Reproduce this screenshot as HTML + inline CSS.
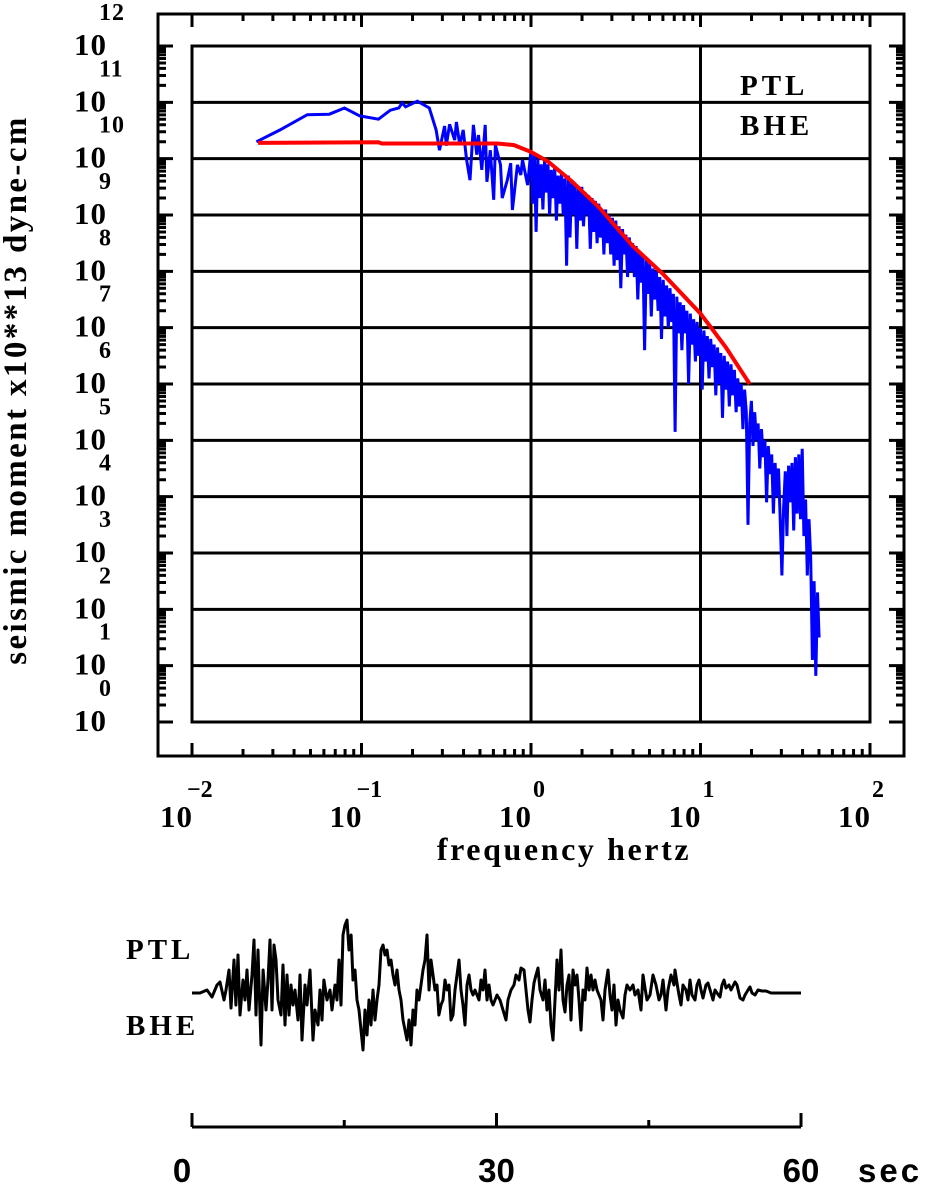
<!DOCTYPE html>
<html><head><meta charset="utf-8">
<style>
html,body{margin:0;padding:0;background:#fff;}
svg{display:block;}
.lab{font-family:"Liberation Serif",serif;font-weight:bold;fill:#000;}
.sans{font-family:"Liberation Sans",sans-serif;fill:#000;}
</style></head>
<body>
<svg id="chart" width="928" height="1184" viewBox="0 0 928 1184" xmlns="http://www.w3.org/2000/svg">
<rect x="0" y="0" width="928" height="1184" fill="#fff"/>
<g id="grid"></g>
<g id="frames"></g>
<g id="ticks"></g>
<g id="labels"></g>
<g id="series"></g>
<text class="lab" x="0" y="0" font-size="33" letter-spacing="2.4" text-anchor="middle" transform="translate(26,390) rotate(-90)">seismic moment x10**13 dyne-cm</text>
<text class="lab" x="564" y="860" font-size="32" letter-spacing="2.6" text-anchor="middle">frequency  hertz</text>
<text class="lab" x="740" y="95" font-size="29" letter-spacing="4">PTL</text>
<text class="lab" x="740" y="135" font-size="29" letter-spacing="4">BHE</text>
<text class="lab" x="126" y="959" font-size="29" letter-spacing="4">PTL</text>
<text class="lab" x="126" y="1035" font-size="29" letter-spacing="4">BHE</text>
<text class="sans" x="858" y="1182" font-size="33" letter-spacing="3" font-weight="bold" text-anchor="start">sec</text>
</svg>
<script>
// ---- spectrum data (log10 Hz, log10 moment) ----
const blueLogF = [-1.62,-1.48,-1.32,-1.19,-1.10,-1.01,-0.90,-0.83,-0.78,-0.76,-0.74,-0.67,-0.60,-0.56,-0.54,-0.51,-0.50,-0.48,-0.45,-0.44,-0.42,-0.40,-0.38,-0.36,-0.34,-0.32,-0.31,-0.29,-0.27,-0.26,-0.24,-0.22,-0.21,-0.18,-0.17,-0.14,-0.12,-0.11,-0.08,-0.06,-0.05,-0.02,
0.00,0.01,0.02,0.03,0.04,0.05,0.06,0.07,0.08,0.09,
0.10,0.11,0.12,0.13,0.14,0.15,0.16,0.17,0.18,0.19,
0.20,0.21,0.22,0.23,0.24,0.25,0.26,0.27,0.28,0.29,
0.30,0.31,0.32,0.33,0.34,0.35,0.36,0.37,0.38,0.39,
0.40,0.41,0.42,0.43,0.44,0.45,0.46,0.47,0.48,0.49,
0.50,0.51,0.52,0.53,0.54,0.55,0.56,0.57,0.58,0.59,
0.60,0.61,0.62,0.63,0.64,0.65,0.66,0.67,0.68,0.69,
0.70,0.71,0.72,0.73,0.74,0.75,0.76,0.77,0.78,0.79,
0.80,0.81,0.82,0.83,0.84,0.85,0.86,0.87,0.88,0.89,
0.90,0.91,0.92,0.93,0.94,0.95,0.96,0.97,0.98,0.99,
1.00,1.01,1.02,1.03,1.04,1.05,1.06,1.07,1.08,1.09,
1.10,1.11,1.12,1.13,1.14,1.15,1.16,1.17,1.18,1.19,
1.20,1.21,1.22,1.23,1.24,1.25,1.26,1.27,1.28,1.29,
1.30,1.31,1.32,1.33,1.34,1.35,1.36,1.37,1.38,1.39,
1.40,1.41,1.42,1.43,1.44,1.45,1.46,1.47,1.48,1.49,
1.50,1.51,1.52,1.53,1.54,1.55,1.56,1.57,1.58,1.59,
1.60,1.61,1.62,1.63,1.64,1.65,1.66,1.67,1.68,1.69,
1.70];
const blueLogM = [10.30,10.51,10.78,10.79,10.90,10.76,10.70,10.86,10.90,10.99,10.92,11.02,10.90,10.51,10.15,10.58,10.23,10.61,10.33,10.65,10.24,10.51,9.98,9.62,10.60,10.07,10.42,9.80,10.60,9.59,10.15,9.27,10.24,9.89,9.30,9.62,9.92,9.09,9.89,9.71,9.98,9.53,
10.15,9.2,10.1,8.7,10.0,9.3,9.9,9.1,10.0,9.4,
9.9,9.0,9.8,9.3,9.85,8.9,9.7,9.2,9.75,9.0,
9.65,8.1,9.7,8.6,9.6,9.0,9.55,8.4,9.5,8.9,
9.5,8.8,9.4,9.0,9.35,8.4,9.3,8.7,9.25,8.5,
9.2,8.6,9.1,8.3,9.1,8.5,9.0,8.3,8.95,8.1,
8.9,8.2,8.8,7.7,8.75,8.3,8.65,7.9,8.6,8.0,
8.5,7.9,8.45,7.5,8.35,7.8,8.3,6.6,8.2,7.6,
8.15,7.2,8.05,7.5,8.0,7.3,7.9,6.8,7.85,7.2,
7.75,7.0,7.7,7.1,7.6,5.15,7.55,6.9,7.45,6.6,
7.4,6.9,7.3,6.0,7.25,6.7,7.15,6.4,7.1,6.5,
7.0,5.9,6.95,6.4,6.85,6.1,6.8,6.3,6.7,5.8,
6.65,6.0,6.55,5.4,6.5,5.9,6.4,5.6,6.35,5.8,
6.25,5.5,6.1,5.6,6.0,5.2,5.9,5.5,3.5,5.3,
5.7,4.9,5.5,5.0,5.3,4.5,5.2,4.7,5.0,3.9,
4.9,4.4,4.75,3.7,4.6,4.0,4.5,3.6,2.6,3.8,
4.45,3.3,4.55,3.9,4.6,3.4,4.7,3.7,4.75,3.6,
4.85,3.3,3.95,2.6,3.6,2.9,1.1,2.5,0.82,2.3,
1.5];
const redLogF = [-1.61,-0.90,-0.88,-0.20,-0.10,0.00,0.10,0.24,0.40,0.60,0.78,1.00,1.15,1.29];
const redLogM = [10.28,10.29,10.27,10.27,10.24,10.12,9.95,9.60,9.14,8.45,7.95,7.25,6.65,6.00];
const xDecades = [-2,-1,0,1,2];
const yDecades = [0,1,2,3,4,5,6,7,8,9,10,11,12];
// ---- seismogram data (seconds, counts) ----
const traceT = [0,0.79,1.48,1.97,2.46,2.76,3.15,3.35,3.65,3.84,4.14,4.33,4.53,4.73,5.02,5.22,5.42,5.62,5.91,6.11,6.31,6.50,6.80,7.00,7.29,7.49,7.68,7.88,8.08,8.28,8.47,8.77,8.97,9.16,9.36,9.56,9.75,9.95,10.15,10.44,10.64,10.84,11.13,11.33,11.63,11.92,12.12,12.41,12.61,12.81,13.0,13.30,13.60,13.79,14.09,14.29,14.48,14.68,14.88,15.07,15.27,15.47,15.67,15.86,16.06,16.26,16.45,16.65,16.85,17.04,17.24,17.44,17.64,17.83,18.03,18.23,18.42,18.62,18.82,19.01,19.21,19.41,19.61,19.80,20.0,20.20,20.39,20.59,20.79,20.99,21.18,21.38,21.58,21.77,21.97,22.17,22.36,22.56,22.76,22.96,23.15,23.35,23.55,23.74,23.94,24.14,24.33,24.53,24.73,24.93,25.12,25.32,25.52,25.71,25.91,26.11,26.31,26.50,26.70,26.90,27.09,27.29,27.49,27.68,27.88,28.08,28.28,28.47,28.67,28.87,29.06,29.26,29.46,29.66,29.85,30.05,30.34,30.64,30.94,31.13,31.43,31.72,31.92,32.22,32.41,32.71,32.91,33.10,33.30,33.50,33.69,33.89,34.09,34.29,34.58,34.78,34.98,35.17,35.37,35.57,35.76,35.96,36.16,36.35,36.55,36.75,36.95,37.14,37.34,37.54,37.73,37.93,38.13,38.33,38.52,38.72,38.92,39.11,39.31,39.51,39.70,39.90,40.30,40.49,40.69,40.99,41.18,41.38,41.58,41.77,41.97,42.17,42.46,42.66,42.86,43.15,43.45,43.65,43.94,44.24,44.43,44.63,44.83,45.12,45.42,45.71,46.01,46.21,46.40,46.70,46.90,47.19,47.49,47.59,47.78,47.98,48.18,48.37,48.67,48.87,49.06,49.26,49.56,49.75,49.95,50.15,50.34,50.64,50.84,51.13,51.33,51.53,51.72,52.02,52.22,52.41,52.61,52.91,53.10,53.50,53.69,53.99,54.29,54.48,54.78,54.98,55.17,55.47,55.76,56.16,56.55,57.04,57.93,60];
const traceA = [0,0,3,-4,8,11,-7,3,23,-15,33,-12,38,-22,13,-7,23,-17,18,53,-22,43,-52,23,-17,13,53,-17,48,33,-7,-22,28,-32,18,-22,8,-12,3,-27,18,-47,8,-12,23,-47,-17,-32,3,-27,13,-7,3,-17,8,-7,33,-12,58,68,73,43,58,13,23,-7,-17,-37,-57,-17,-42,-7,-32,3,-27,-7,8,43,48,38,43,28,33,18,8,23,3,-7,-27,-37,-47,-27,-52,-17,-32,3,-7,8,23,33,58,3,33,18,3,8,-22,-12,-7,13,3,8,-27,-22,3,18,33,3,-12,-32,8,18,3,-2,3,-2,-7,13,3,23,-7,8,-7,-12,-7,-2,-7,-17,-27,-7,3,8,18,13,25,23,3,-17,-29,-7,10,18,25,3,-7,13,-17,3,-32,-47,-7,33,3,43,-7,-19,8,18,-27,23,8,18,-7,-37,3,-7,25,3,18,3,13,3,-7,-27,3,23,-2,-17,8,-32,-7,-17,-25,-2,8,3,8,-2,3,-17,18,5,-7,-2,18,8,-7,-2,13,-17,3,18,8,23,10,-2,-12,8,3,-7,13,-2,-7,8,13,3,-5,8,10,0,-7,3,0,-4,8,13,5,8,3,11,8,-5,-7,-2,3,6,0,-2,3,2,2,0,0,0];
const timeTicks = [0,15,30,45,60];
const timeLabels = [0,30,60];

const NS='http://www.w3.org/2000/svg';
function mk(tag, attrs, parent){const e=document.createElementNS(NS,tag);for(const k in attrs)e.setAttribute(k,attrs[k]);parent.appendChild(e);return e;}
const X0=192,X1=870,Y0=722,Y1=46;
const xs = lf => X0 + (lf + 2) * (X1 - X0) / 4;
const ys = lm => Y0 - lm * (Y0 - Y1) / 12;
const TX0=192,TX1=801,TY=993;
const ts = t => TX0 + t * (TX1 - TX0) / 60;
const as = a => TY - a;

const grid=document.getElementById('grid'),frames=document.getElementById('frames'),ticks=document.getElementById('ticks'),labels=document.getElementById('labels'),series=document.getElementById('series');

yDecades.forEach(d=>{
  const l=mk('line',{x1:X0,x2:X1,y1:ys(d),y2:ys(d),stroke:'#000','stroke-width':3},grid);
  
  
});
xDecades.forEach(d=>{
  const l=mk('line',{x1:xs(d),x2:xs(d),y1:Y1,y2:Y0,stroke:'#000','stroke-width':3},grid);
  
  
});
const inner=mk('rect',{x:X0,y:Y1,width:X1-X0,height:Y0-Y1,fill:'none',stroke:'#000','stroke-width':3},frames);


const outer=mk('rect',{x:158,y:14,width:746,height:742,fill:'none',stroke:'#000','stroke-width':3},frames);



let tp='';
for(let d=-2; d<=2; d++){
  for(let m=1;m<=9;m++){
    if(d===2&&m>1)break;
    const x=xs(d+Math.log10(m)); const L=m===1?13:7;
    tp+=`M${x} 14v${L}M${x} 756v${-L}`;
  }
}
for(let d=0; d<=12; d++){
  for(let m=1;m<=9;m++){
    if(d===12&&m>1)break;
    const y=ys(d+Math.log10(m)); const L=m===1?15:8;
    tp+=`M158 ${y}h${L}M904 ${y}h${-L}`;
  }
}
const tk=mk('path',{d:tp,stroke:'#000','stroke-width':3,fill:'none'},ticks);



yDecades.forEach(d=>{
  const t=mk('text',{x:107,y:ys(d)+9,'font-size':31,'letter-spacing':1,'text-anchor':'end',class:'lab'},labels);
  t.textContent='10';
  
  
  const e=mk('text',{x:99,y:ys(d)-26,'font-size':24,'letter-spacing':1,class:'lab'},labels);
  e.textContent=String(d);
  
  
});
xDecades.forEach(d=>{
  const t=mk('text',{x:xs(d)+1,y:827,'font-size':31,'letter-spacing':1,'text-anchor':'end',class:'lab'},labels);
  t.textContent='10';
  
  
  const e=mk('text',{x:xs(d)-(d<0?5:-2),y:797,'font-size':24,class:'lab'},labels);
  e.textContent=(d<0?'\u2212':'')+Math.abs(d);
  
  
});

let bp=blueLogF.map((f,i)=>(i?'L':'M')+xs(f).toFixed(1)+' '+ys(blueLogM[i]).toFixed(1)).join('');
const blue=mk('path',{d:bp,stroke:'#0000ff','stroke-width':3,fill:'none','stroke-linejoin':'miter'},series);


let rp=redLogF.map((f,i)=>(i?'L':'M')+xs(f).toFixed(1)+' '+ys(redLogM[i]).toFixed(1)).join('');
const red=mk('path',{d:rp,stroke:'#ff0000','stroke-width':4,fill:'none'},series);



let wp=traceT.map((t,i)=>(i?'L':'M')+ts(t).toFixed(1)+' '+as(traceA[i]).toFixed(1)).join('');
const wave=mk('path',{d:wp,stroke:'#000','stroke-width':3,fill:'none','stroke-linejoin':'round'},series);



let ta=`M${ts(0)} 1127H${ts(60)}`;
timeTicks.forEach(t=>{ta+=`M${ts(t)} 1127v${(t%30===0)?-14:-7}`;});
const tax=mk('path',{d:ta,stroke:'#000','stroke-width':3,fill:'none'},series);


timeLabels.forEach(t=>{
  const e=mk('text',{x:ts(t)-(t===0?10:0),y:1182,'font-size':33,'font-weight':'bold','text-anchor':'middle',class:'sans'},labels);
  e.textContent=String(t);
  
  
});
</script>
</body></html>
